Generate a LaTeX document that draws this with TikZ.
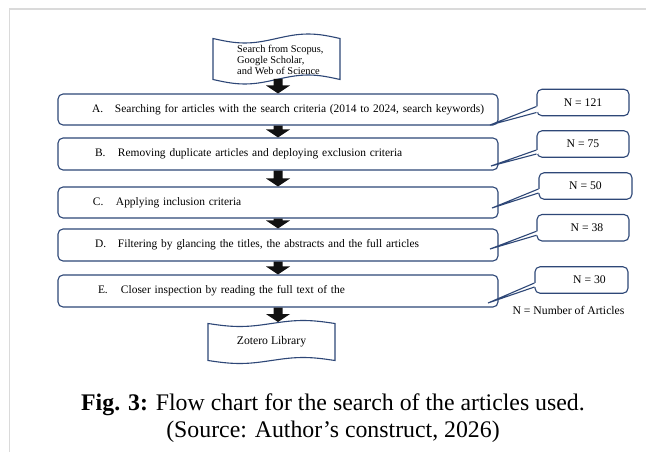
\documentclass[tikz,border=0pt]{standalone}
\usepackage{fontspec}
\setmainfont{Liberation Serif}
\usetikzlibrary{calc}

\definecolor{navy}{HTML}{2E4777}
\definecolor{framegray}{HTML}{DADADA}
\definecolor{arrowink}{HTML}{111111}

\tikzset{
  stepbox/.style={draw=navy, line width=1.1pt, rounded corners=5pt,
    minimum width=440pt, text width=440pt, inner xsep=0pt, inner ysep=0pt,
    align=left, font=\fontsize{11.45}{14}\selectfont},
  countbox/.style={draw=navy, fill=white, line width=1.1pt, rounded corners=5pt,
    minimum height=26.5pt, inner sep=0pt, font=\fontsize{11.7}{14}\selectfont},
  tape/.style={draw=navy, fill=white, line width=1.1pt},
  tail/.style={draw=navy, line width=1.1pt, line join=miter},
  blockarrow/.style={fill=arrowink},
  plaintext/.style={inner sep=0pt, font=\fontsize{11.7}{14}\selectfont},
}

% indented step label: indent, letter, text
\newcommand\steplabel[3]{\hspace*{#1pt}\makebox[23pt][l]{#2}#3}

% thick block arrow from one anchor down to another
\newcommand\flowarrow[2]{%
  \fill[blockarrow] ($(#1)+(-4.5,0)$) -- ($(#2)+(-4.5,-8)$) -- ($(#2)+(-12,-8)$)
    -- (#2) -- ($(#2)+(12,-8)$) -- ($(#2)+(4.5,-8)$) -- ($(#1)+(4.5,0)$) -- cycle;}

% wedge tail of a count callout: node, tip, upper and lower offsets on its west side
\newcommand\calltail[4]{%
  \fill[white] ($(#1.west)+(0,#3)$) -- (#2) -- ($(#1.west)+(0,#4)$)
    -- ($(#1.west)+(1.5,#4)$) -- ($(#1.west)+(1.5,#3)$) -- cycle;
  \draw[tail] ($(#1.west)+(0,#3)$) -- (#2) -- ($(#1.west)+(0,#4)$);}

% punched-tape outline: x left, x right, top line, bottom line, wave amplitude
\newcommand\tapeoutline[5]{%
  \path[tape] (#1,#3) sin ({#1+(#2-#1)/4},{#3+#5}) cos ({(#1+#2)/2},#3)
    sin ({#1+3*(#2-#1)/4},{#3-#5}) cos (#2,#3) -- (#2,#4)
    sin ({#1+3*(#2-#1)/4},{#4-#5}) cos ({(#1+#2)/2},#4)
    sin ({#1+(#2-#1)/4},{#4+#5}) cos (#1,#4) -- cycle;}

\begin{document}
\begin{tikzpicture}[x=1pt, y=-1pt]
\useasboundingbox (0,0) rectangle (646,452);
\fill[white] (0,0) rectangle (646,452);
\draw[framegray, line width=1.5pt] (646,9) -- (9.5,9) -- (9.5,452);

% source document
\tapeoutline{213}{340}{38.5}{79.5}{4.5}
\node[anchor=west, inner sep=0pt, align=left,
  font=\fontsize{10.4}{11}\selectfont] (src) at (237,60)
  {Search from Scopus,\\Google Scholar,\\and Web of Science};
\coordinate (srcout) at (278,79);

% screening steps
\node[stepbox, minimum height=31pt] (A) at (278,109.5)
  {\steplabel{34}{A.}{Searching for articles with the search criteria (2014 to 2024, search keywords)}};
\node[stepbox, minimum height=32pt] (B) at (278,154)
  {\steplabel{37}{B.}{Removing duplicate articles and deploying exclusion criteria}};
\node[stepbox, minimum height=31pt] (C) at (278,202.5)
  {\steplabel{35}{C.}{Applying inclusion criteria}};
\node[stepbox, minimum height=32pt] (D) at (278,245)
  {\steplabel{37}{D.}{Filtering by glancing the titles, the abstracts and the full articles}};
\node[stepbox, minimum height=32pt] (E) at (278,291)
  {\steplabel{40}{E.}{Closer inspection by reading the full text of the}};

% result library
\tapeoutline{208}{335}{323.5}{360.5}{3}
\coordinate (zotin) at (278,322);
\node[plaintext] (zot) at (271.5,342) {Zotero Library};

% arrows
\flowarrow{srcout}{A.north}
\flowarrow{A.south}{B.north}
\flowarrow{B.south}{C.north}
\flowarrow{C.south}{D.north}
\flowarrow{D.south}{E.north}
\flowarrow{E.south}{zotin}

% article counts
\node[countbox, minimum width=92pt] (n1) at (583,102.5) {N = 121};
\node[countbox, minimum width=92pt] (n2) at (583,144) {N = 75};
\node[countbox, minimum width=93pt] (n3) at (585.5,186) {N = 50};
\node[countbox, minimum width=92pt] (n4) at (583,227.75) {\hspace*{8pt}N = 38};
\node[countbox, minimum width=93pt] (n5) at (581.5,280) {\hspace*{16pt}N = 30};

\coordinate (tA) at (490,125);
\coordinate (tB) at (491,166);
\coordinate (tC) at (492,208);
\coordinate (tD) at (490,249);
\coordinate (tE) at (488,303);
\calltail{n1}{tA}{4}{10}
\calltail{n2}{tB}{6}{10}
\calltail{n3}{tC}{3}{7}
\calltail{n4}{tD}{3.5}{7.5}
\calltail{n5}{tE}{3}{7}

\node[plaintext] (legend) at (568.5,310) {N = Number of Articles};

% caption
\node[inner sep=0pt, align=center, font=\fontsize{23.8}{27}\selectfont] (cap) at (333,418.5)
  {\textbf{Fig. 3:} Flow chart for the search of the articles used.\\(Source: Author’s construct, 2026)};
\end{tikzpicture}
\end{document}
